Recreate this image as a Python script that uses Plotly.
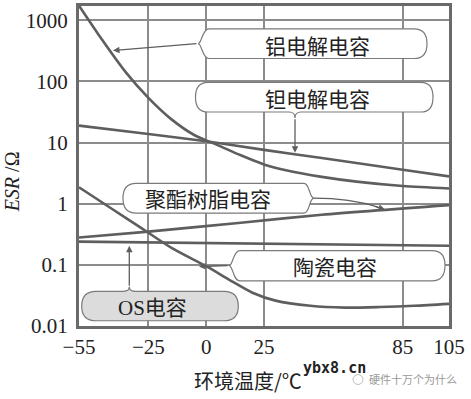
import plotly.graph_objects as go

# ---------------- data ----------------
temp_al = [-55, -45, -35, -25, -15, -5, 5, 15, 25, 35, 50, 65, 85, 105]
esr_al = [1740, 480, 145, 54, 24, 13.2, 9.1, 6.2, 4.4, 3.5, 2.75, 2.3, 1.95, 1.78]

temp_ta = [-55, -25, 0, 25, 50, 85, 105]
esr_ta = [19, 13.8, 10.5, 7.6, 5.6, 3.6, 2.8]

temp_pe = [-55, -25, 15, 50, 105]
esr_pe = [0.28, 0.35, 0.49, 0.66, 0.95]

temp_ce = [-55, 105]
esr_ce = [0.24, 0.205]

temp_os = [-55, -40, -28, -15, 0, 10, 20, 30, 45, 60, 75, 90, 105]
esr_os = [1.86, 0.79, 0.40, 0.19, 0.095, 0.057, 0.035, 0.026, 0.0214, 0.020, 0.0204, 0.0214, 0.023]

x_ticks = [-55, -25, 0, 25, 85, 105]
x_ticktext = ["\u221255", "\u221225", "0", "25", "85", "105"]
y_ticks = [0.01, 0.1, 1, 10, 100, 1000]
y_ticktext = ["0.01", "0.1", "1", "10", "100", "1000"]

labels = ["铝电解电容", "钽电解电容", "聚酯树脂电容", "陶瓷电容", "OS电容"]

# ---------------- layout helpers ----------------
W, H = 471, 399
ML, MR, MT, MB = 79, 22, 3, 73
PW, PH = W - ML - MR, H - MT - MB


def X(px):
    return (px - ML) / PW


def Y(py):
    return (H - MB - py) / PH


def p(x, y):
    return f"{X(x):.5f},{Y(y):.5f}"


LINE = "#5e5e5e"
GRID = "#8c8c8c"
CJK = "Noto Sans CJK SC"
SERIF = "Liberation Serif"

fig = go.Figure()
for tx, ty in [(temp_al, esr_al), (temp_ta, esr_ta), (temp_pe, esr_pe),
               (temp_ce, esr_ce), (temp_os, esr_os)]:
    fig.add_trace(go.Scatter(x=tx, y=ty, mode="lines",
                             line=dict(color=LINE, width=2.6, shape="spline", smoothing=0.8),
                             showlegend=False, hoverinfo="skip"))

shapes = []
box_line = dict(color="#7a7a7a", width=1.2)

# Box A: aluminium (bracket on left, rounded right)
pathA = (f"M{p(209,26)} L{p(414,26)} Q{p(427,26)} {p(427,41)} Q{p(427,56)} {p(414,56)} "
         f"L{p(209,56)} C{p(202,56)} {p(202,41)} {p(198,41)} C{p(202,41)} {p(202,26)} {p(209,26)} Z")
shapes.append(dict(type="path", path=pathA, xref="paper", yref="paper",
                   fillcolor="white", line=box_line, layer="above"))

# Box B: tantalum (rounded both sides, notch at bottom)
pathB = (f"M{p(208,80)} L{p(421,80)} Q{p(433,80)} {p(433,95)} Q{p(433,110)} {p(421,110)} "
         f"L{p(301,110)} Q{p(295,110)} {p(295,116)} Q{p(295,110)} {p(289,110)} "
         f"L{p(208,110)} Q{p(195.5,110)} {p(195.5,95)} Q{p(195.5,80)} {p(208,80)} Z")
shapes.append(dict(type="path", path=pathB, xref="paper", yref="paper",
                   fillcolor="white", line=box_line, layer="above"))

# Box C: polyester (rounded left, bracket on right)
pathC = (f"M{p(136,182)} L{p(304,182)} C{p(310,182)} {p(309,197)} {p(314,197)} "
         f"C{p(309,197)} {p(310,212)} {p(304,212)} L{p(136,212)} "
         f"Q{p(123,212)} {p(123,197)} Q{p(123,182)} {p(136,182)} Z")
shapes.append(dict(type="path", path=pathC, xref="paper", yref="paper",
                   fillcolor="white", line=box_line, layer="above"))
shapes.append(dict(type="path", path=f"M{p(314,197)} Q{p(350,197)} {p(378,206)}",
                   xref="paper", yref="paper", line=dict(color=LINE, width=1.3), layer="above"))

# Box D: ceramic (bracket on left, rounded right)
pathD = (f"M{p(240,250)} L{p(432,250)} Q{p(445,250)} {p(445,265)} Q{p(445,280.5)} {p(432,280.5)} "
         f"L{p(240,280.5)} C{p(233,280.5)} {p(233,265)} {p(229,265)} C{p(233,265)} {p(233,250)} {p(240,250)} Z")
shapes.append(dict(type="path", path=pathD, xref="paper", yref="paper",
                   fillcolor="white", line=box_line, layer="above"))

# Box E: OS (grey, rounded, notch on top)
pathE = (f"M{p(96,291)} L{p(123.5,291)} Q{p(129.3,291)} {p(129.3,286.5)} Q{p(129.3,291)} {p(135,291)} "
         f"L{p(224,291)} Q{p(238.3,291)} {p(238.3,306)} Q{p(238.3,320.7)} {p(224,320.7)} "
         f"L{p(96,320.7)} Q{p(81.7,320.7)} {p(81.7,306)} Q{p(81.7,291)} {p(96,291)} Z")
shapes.append(dict(type="path", path=pathE, xref="paper", yref="paper",
                   fillcolor="#dcdcdc", line=box_line, layer="above"))

# watermark icon
shapes.append(dict(type="circle", xref="paper", yref="paper",
                   x0=X(353), x1=X(363), y0=Y(385), y1=Y(375),
                   line=dict(color="#bbbbbb", width=1)))

ann = []


def arrow(tail, tip):
    ann.append(dict(x=X(tip[0]), y=Y(tip[1]), xref="paper", yref="paper",
                    ax=tail[0] - tip[0], ay=tail[1] - tip[1], axref="pixel", ayref="pixel",
                    text="", showarrow=True, arrowhead=2, arrowsize=1, arrowwidth=1.3,
                    arrowcolor=LINE, standoff=0, startstandoff=0))


arrow((198, 41), (113, 48))
arrow((295, 116), (295, 151))
arrow((374, 205), (385, 208.3))
arrow((229, 265), (199, 266))
arrow((129.3, 286.5), (129.3, 245))


def label(text, x, y, size=21, family=CJK, color="#222222"):
    ann.append(dict(x=X(x), y=Y(y), xref="paper", yref="paper", text=text, showarrow=False,
                    xanchor="center", yanchor="middle", font=dict(family=family, size=size, color=color)))


label(labels[0], 317, 42)
label(labels[1], 317, 96)
label(labels[2], 208, 197)
label(labels[3], 335, 265)
label(f"<span style='font-family:{SERIF}'>OS</span>电容", 152, 306)

# axis titles
ann.append(dict(x=X(12), y=Y(181), xref="paper", yref="paper", xanchor="center", yanchor="middle",
                text="<i>ESR</i> /Ω", textangle=-90, showarrow=False,
                font=dict(family=SERIF, size=20, color="#222222")))
label("环境温度/℃", 248, 381, size=20)
label("<b>ybx8.cn</b>", 334, 368, size=15, family="DejaVu Sans Mono", color="#222222")
label("硬件十万个为什么", 413, 380, size=11, color="#999999")

fig.update_layout(
    width=W, height=H, margin=dict(l=ML, r=MR, t=MT, b=MB),
    paper_bgcolor="white", plot_bgcolor="white",
    shapes=shapes, annotations=ann, showlegend=False,
    xaxis=dict(range=[-55, 105], tickvals=x_ticks, ticktext=x_ticktext,
               showgrid=True, gridcolor=GRID, gridwidth=1.5, zeroline=False,
               showline=True, linecolor="#6a6a6a", linewidth=3, mirror=True,
               ticks="", tickfont=dict(family=SERIF, size=21, color="#222222")),
    yaxis=dict(type="log", range=[-2, 3.235], tickvals=y_ticks, ticktext=y_ticktext,
               showgrid=True, gridcolor=GRID, gridwidth=1.5, zeroline=False,
               showline=True, linecolor="#6a6a6a", linewidth=3, mirror=True,
               ticks="", ticklabelstandoff=4, tickfont=dict(family=SERIF, size=21, color="#222222")),
)

fig.write_html("out.html")
